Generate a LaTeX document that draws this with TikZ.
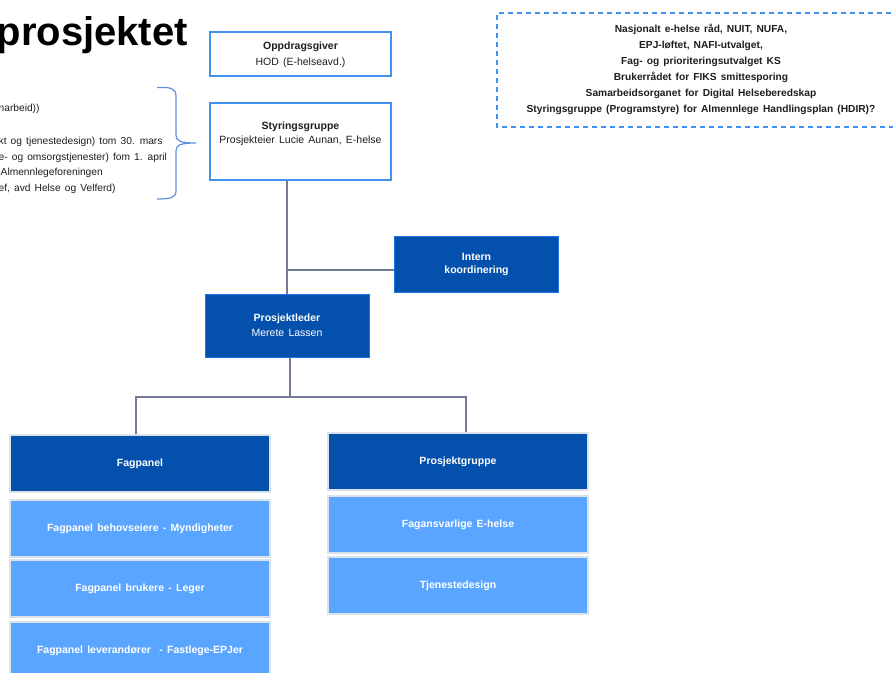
\documentclass[tikz,border=0pt]{standalone}
\usepackage{fontspec}
\setmainfont[WordSpace=1.45]{Liberation Sans}
\usetikzlibrary{calc}
\definecolor{navy}{RGB}{3,80,173}
\definecolor{sky}{RGB}{90,165,255}
\definecolor{frame}{RGB}{64,145,240}
\definecolor{darkedge}{RGB}{30,115,225}
\definecolor{paleedge}{RGB}{218,226,236}
\definecolor{wire}{RGB}{112,122,150}
\definecolor{bracecol}{RGB}{95,145,220}
\definecolor{ink}{RGB}{30,30,30}
\tikzset{
  txt/.style={font=\fontsize{10.5}{15}\selectfont, text=ink, inner sep=0pt},
  member/.style={txt, font=\fontsize{10.2}{15}\selectfont, anchor=base west},
  whitebox/.style={draw=frame, line width=1.6pt, fill=white},
  darkbox/.style={draw=darkedge, line width=1pt, fill=navy, text=white,
    font=\fontsize{10.5}{15}\selectfont\bfseries, align=center},
  headbox/.style={draw=paleedge, line width=1.4pt, fill=navy, text=white,
    font=\fontsize{10.5}{15}\selectfont\bfseries, align=center},
  subbox/.style={draw=paleedge, line width=1.4pt, fill=sky, text=white,
    font=\fontsize{10.5}{15}\selectfont\bfseries, align=center},
  conn/.style={draw=wire, line width=1.2pt},
}
\begin{document}
\begin{tikzpicture}[x=1pt,y=-1pt]
\useasboundingbox (0,0) rectangle (893,672);
\clip (0,0) rectangle (893,672);
\fill[white] (0,0) rectangle (893,672);

% heading
\node[anchor=base east, inner sep=0pt, font=\fontsize{40}{48}\selectfont\bfseries] (title) at (188,45) {prosjektet};

% members listed left of the brace
\node[member] (m1) at (-1.5,111) {narbeid))};
\node[member] (m2) at (-1.5,144) {kt og tjenestedesign) tom 30. mars};
\node[member] (m3) at (-1.5,160) {e- og omsorgstjenester) fom 1. april};
\node[member] (m4) at (0.5,175) {Almennlegeforeningen};
\node[member] (m5) at (-1.5,191) {ef, avd Helse og Velferd)};

% curly brace
\draw[bracecol, line width=1.2pt]
  (157,87.5) .. controls (170,87) and (176,88) .. (176,96)
  -- (176,135) .. controls (176,141) and (180,143) .. (196,143)
  .. controls (180,143) and (176,145) .. (176,151)
  -- (176,191) .. controls (176,198) and (170,199) .. (157,199);

% commissioning and steering
\node[whitebox, minimum width=181pt, minimum height=44pt] (opp) at (300.5,54) {};
\node[txt, align=center, font=\fontsize{10.5}{16.5}\selectfont] (opptxt) at (300.5,55)
  {\textbf{Oppdragsgiver}\\HOD (E-helseavd.)};
\node[whitebox, minimum width=181pt, minimum height=77pt] (styr) at (300.5,141.5) {};
\node[txt, align=center, font=\fontsize{10.5}{14.5}\selectfont] (styrtxt) at (300.5,134)
  {\textbf{Styringsgruppe}\\Prosjekteier Lucie Aunan, E-helse};

% advisory bodies
\draw[frame, line width=1.3pt, dash pattern=on 5pt off 4pt] (900,13) -- (497,13) -- (497,127) -- (900,127);
\node[txt, align=center, font=\fontsize{10.2}{16}\selectfont\bfseries] (forum) at (701,69)
  {Nasjonalt e-helse råd, NUIT, NUFA,\\EPJ-løftet, NAFI-utvalget,\\Fag- og prioriteringsutvalget KS\\Brukerrådet for FIKS smittesporing\\Samarbeidsorganet for Digital Helseberedskap\\Styringsgruppe (Programstyre) for Almennlege Handlingsplan (HDIR)?};

% project management
\node[darkbox, minimum width=164pt, minimum height=56pt, font=\fontsize{10.5}{12.5}\selectfont\bfseries] (intern) at (476.5,264.5) {Intern\\koordinering};
\node[darkbox, minimum width=164pt, minimum height=63pt] (pl) at (287,325.5)
  {Prosjektleder\\\mdseries Merete Lassen};

% panels
\node[headbox, minimum width=260pt, minimum height=57pt] (fp) at (140,463.5) {Fagpanel};
\node[subbox, minimum width=260pt, minimum height=57pt] (fp1) at (140,528.5) {Fagpanel behovseiere - Myndigheter};
\node[subbox, minimum width=260pt, minimum height=57pt] (fp2) at (140,588.5) {Fagpanel brukere - Leger};
\node[subbox, minimum width=260pt, minimum height=57pt] (fp3) at (140,650.5) {Fagpanel leverandører\ \ - Fastlege-EPJer};

% project group
\node[headbox, minimum width=260pt, minimum height=57pt] (pg) at (458,461.5) {Prosjektgruppe};
\node[subbox, minimum width=260pt, minimum height=57pt] (pg1) at (458,524.5) {Fagansvarlige E-helse};
\node[subbox, minimum width=260pt, minimum height=57pt] (pg2) at (458,585.5) {Tjenestedesign};

% connectors
\coordinate (j1) at (287,270);
\coordinate (hub) at (290,397);
\draw[conn] (pl.north |- styr.south) -- (pl.north);
\draw[conn] (j1) -- (intern.west |- j1);
\draw[conn] (hub |- pl.south) -- (hub);
\draw[conn] ([xshift=-4pt]fp.north) |- (hub) -| ([xshift=8pt]pg.north);
\end{tikzpicture}
\end{document}
